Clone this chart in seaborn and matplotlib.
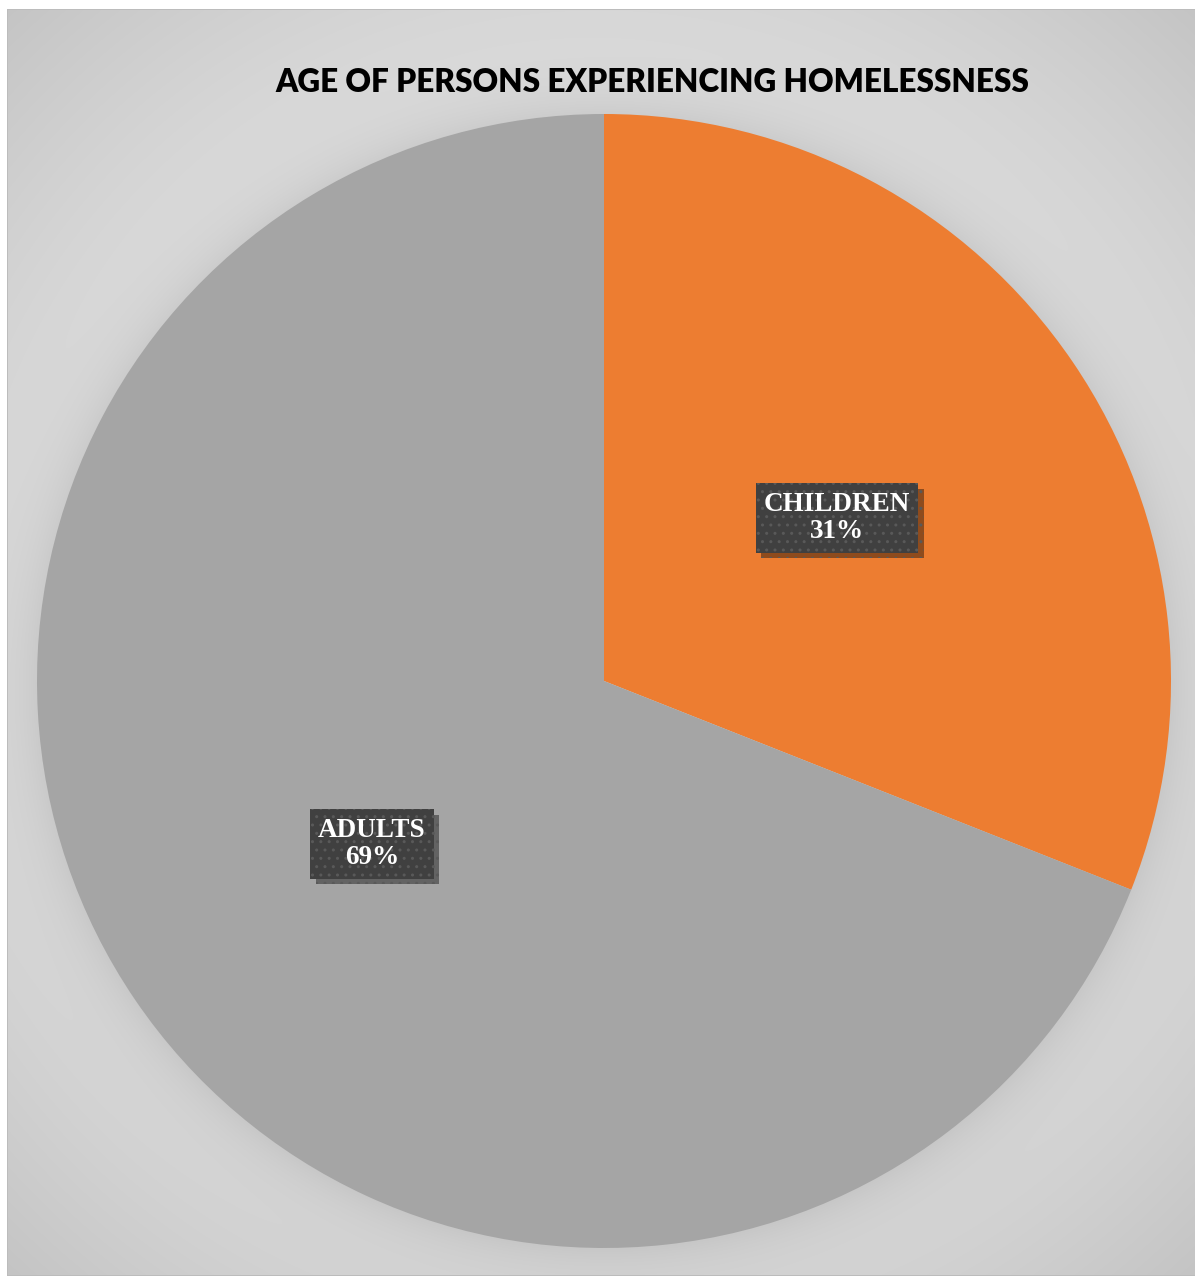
import numpy as np
import matplotlib
matplotlib.use("Agg")
import matplotlib.pyplot as plt
import matplotlib.patheffects as pe
import seaborn as sns

# Data
categories = ["CHILDREN", "ADULTS"]
shares = [31, 69]
colors = ["#ED7D31", "#A5A5A5"]
title_text = "AGE OF PERSONS EXPERIENCING HOMELESSNESS"

sns.set_theme(style="white")
plt.rcParams["font.family"] = ["Lato", "DejaVu Sans"]

W, H, DPI = 1196, 1277, 100
fig = plt.figure(figsize=(W / DPI, H / DPI), dpi=DPI, facecolor="white")

# Pie geometry in pixels (from top-left)
cx, cy, R = 604, 681, 567

# Background panel: radial gradient with a soft shadow around the pie
yy, xx = np.mgrid[0:H, 0:W].astype(float)
gx, gy = 600.0, 640.0
rmax = np.hypot(gx - 7, gy - 9)
rn = np.hypot(xx - gx, yy - gy) / rmax
base = 0.93 - (0.93 - 0.77) * rn ** 2
d = np.hypot(xx - cx, yy - cy) - R
halo = np.where(d > 0, 0.07 * np.exp(-np.clip(d, 0, None) / 30.0), 0.07)
val = np.clip(base - halo, 0, 1)
img = np.ones((H, W, 3))
px0, py0, px1, py1 = 7, 9, 1195, 1276
img[py0:py1, px0:px1, :] = val[py0:py1, px0:px1, None]
border = 0.74
img[py0:py1, px0, :] = border
img[py0, px0:px1, :] = border
img[py1 - 1, px0:px1, :] = border
fig.figimage(img, xo=0, yo=0, origin="upper", zorder=0)

# Axes placed so that the unit circle lands on the pie geometry
ax = fig.add_axes([(cx - R) / W, (H - cy - R) / H, 2 * R / W, 2 * R / H])
ax.set_zorder(2)
ax.set_facecolor("none")
ax.pie(shares, colors=colors, startangle=90, counterclock=False,
       radius=1.0, wedgeprops=dict(linewidth=0))
ax.set_xlim(-1, 1)
ax.set_ylim(-1, 1)
ax.set_aspect("auto")
ax.axis("off")

# Data labels in dark boxes with a drop shadow
label_pos = [((837 - cx) / R, (cy - 518) / R), ((372 - cx) / R, (cy - 844) / R)]
for cat, val_, (lx, ly) in zip(categories, shares, label_pos):
    t = ax.text(lx, ly, f"{cat}\n{val_}%", ha="center", va="center",
                color="white", fontsize=19.5, fontweight="bold",
                family=["Liberation Serif", "DejaVu Serif"], linespacing=1.15,
                bbox=dict(boxstyle="square,pad=0.3", facecolor="#404040",
                          edgecolor="#595959", hatch="..", linewidth=0))
    t.get_bbox_patch().set_path_effects([
        pe.SimplePatchShadow(offset=(4, -4), shadow_rgbFace="black", alpha=0.4),
        pe.Normal()])

fig.text(652 / W, 1 - 82 / H, title_text, ha="center", va="center",
         fontsize=22.7, fontweight="heavy", color="black", zorder=3,
         family=["Lato", "DejaVu Sans"])

fig.savefig("out.png", dpi=DPI, facecolor="white")
